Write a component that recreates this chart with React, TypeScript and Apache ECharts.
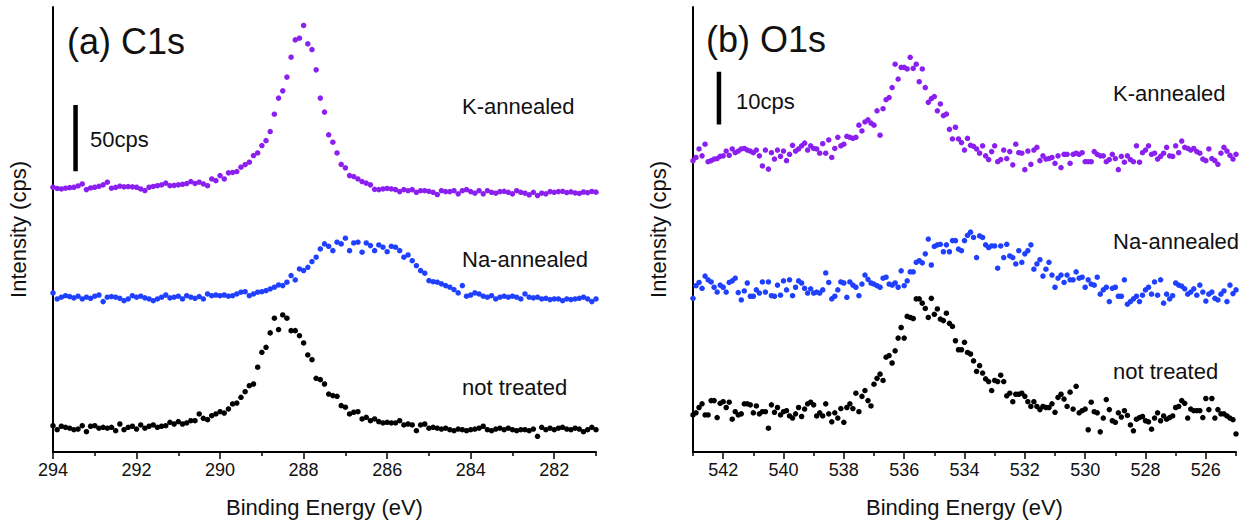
import React, { useEffect, useRef } from "react";
import * as echarts from "echarts";

// ---------- energy grids ----------
const c1sStartEV = 294;
const o1sStartEV = 543;
const stepEV = 0.1;

const c1sRange = [281, 294];
const o1sRange = [525, 543];
const c1sMajorTicks = [294, 292, 290, 288, 286, 284, 282];
const c1sMinorTicks = [293, 291, 289, 287, 285, 283, 281];
const o1sMajorTicks = [542, 540, 538, 536, 534, 532, 530, 528, 526];
const o1sMinorTicks = [543, 541, 539, 537, 535, 533, 531, 529, 527, 525];

const seriesNames = ["K-annealed", "Na-annealed", "not treated"];
const panelTitles = ["(a) C1s", "(b) O1s"];
const scaleBarLabels = ["50cps", "10cps"];
const scaleBarCps = [50, 10];

// ---------- C1s (cps, stacked with offsets) ----------
const c1sKAnnealed = [
  200.5, 199.6, 199.2, 199.8, 200.2, 200.5, 201.5, 203.0, 198.7, 200.0,
  200.5, 201.2, 202.3, 204.3, 199.8, 200.4, 201.3, 200.8, 201.0, 200.8,
  200.5, 199.2, 198.0, 200.5, 201.1, 201.7, 202.3, 203.6, 201.7, 201.9,
  202.3, 202.7, 203.3, 204.8, 203.4, 204.3, 203.0, 201.7,
  206.8, 205.5, 209.3, 206.8, 211.4, 211.7, 212.4, 215.7, 217.7, 219.5,
  224.5, 226.5, 232.1, 235.8, 242.7, 255.8, 268.0, 273.5, 283.9, 299.0,
  312.1, 313.4, 323.0, 309.1, 304.8, 289.4, 268.0, 257.4, 240.2, 234.6,
  226.5, 217.8, 215.2, 209.3, 208.6, 206.8, 204.8, 203.6, 202.3, 198.9,
  198.7, 199.2, 199.6, 199.2, 198.7, 197.2, 198.7, 197.9, 198.7, 196.7,
  197.9, 197.9, 197.4, 196.7, 195.0, 197.9, 197.2, 197.2, 197.9, 195.5,
  197.9, 198.7, 197.2, 196.0, 197.9, 195.5, 197.9, 196.7, 196.0, 197.2,
  197.4, 196.7, 195.5, 197.9, 196.7, 196.0, 194.7, 196.7, 194.2, 196.0,
  195.5, 197.2, 196.7, 197.2, 197.4, 196.5, 197.0, 196.2, 195.8, 196.9,
  196.4, 197.3, 196.8,
];

const c1sNaAnnealed = [
  120.5, 115.9, 117.2, 118.4, 117.7, 116.7, 118.0, 115.9, 117.2, 116.4,
  118.0, 118.9, 113.9, 117.2, 117.7, 117.2, 116.4, 114.6, 115.9, 118.4,
  117.2, 118.0, 116.7, 115.9, 114.6, 115.9, 117.2, 118.9, 116.7, 117.2,
  118.0, 115.9, 118.4, 117.2, 116.4, 117.7, 115.9, 119.7, 118.4, 118.9,
  118.4, 118.9, 118.0, 118.4, 119.7, 121.0, 121.4, 118.4, 119.7, 121.0,
  121.4, 122.2, 123.5, 124.8, 126.5, 126.0, 128.6, 133.6, 130.3, 138.6,
  137.4, 139.9, 144.2, 147.5, 153.8, 157.6, 155.8, 152.5, 158.9, 157.6,
  161.9, 152.5, 158.3, 158.9, 151.3, 158.3, 156.3, 152.5, 156.8, 155.1,
  151.7, 155.8, 155.1, 152.5, 147.5, 149.2, 144.9, 141.1, 137.4, 135.4,
  129.8, 129.0, 128.6, 127.3, 126.0, 124.8, 123.0, 120.5, 126.0, 118.0,
  118.9, 120.5, 119.7, 118.0, 117.2, 118.4, 115.9, 117.2, 118.0, 117.2,
  118.0, 117.2, 115.9, 119.7, 117.2, 116.7, 117.2, 115.9, 116.4, 115.4,
  115.9, 115.9, 114.6, 115.9, 115.4, 115.9, 116.4, 117.2, 115.9, 113.9,
  115.9,
];

const c1sNotTreated = [
  19.9, 16.9, 19.5, 18.7, 18.0, 16.9, 17.4, 19.9, 15.4, 19.5,
  19.9, 18.0, 18.7, 18.0, 18.7, 16.1, 21.2, 16.9, 18.7, 19.5,
  17.4, 20.5, 18.0, 19.5, 20.5, 18.7, 19.5, 19.9, 22.5, 21.2,
  23.0, 21.2, 22.0, 23.7, 23.7, 28.8, 25.5, 24.5, 27.5, 28.8,
  30.5, 29.5, 32.6, 36.4, 37.1, 41.4, 45.7, 50.2, 51.5, 64.2,
  75.5, 79.3, 90.2, 101.3, 92.7, 103.8, 101.3, 91.9, 91.9, 88.1,
  82.6, 73.5, 69.9, 55.8, 54.8, 51.5, 43.9, 42.7, 42.2, 35.1,
  33.9, 28.8, 30.1, 30.5, 25.0, 26.3, 23.7, 25.0, 23.0, 22.0,
  22.5, 22.0, 22.0, 23.7, 20.5, 21.2, 20.5, 16.1, 20.5, 21.2,
  18.0, 18.7, 18.0, 17.4, 18.0, 16.9, 16.1, 17.4, 16.9, 16.1,
  16.9, 17.4, 18.0, 19.5, 16.9, 16.1, 17.4, 18.0, 16.9, 18.0,
  16.9, 16.1, 16.9, 16.9, 16.1, 17.4, 11.9, 18.7, 16.9, 18.0,
  16.9, 18.0, 18.7, 17.4, 16.9, 18.0, 17.4, 15.4, 16.9, 18.7,
  16.9,
];

// ---------- O1s (cps, stacked with offsets) ----------
const o1sKAnnealed = [
  55.0, 55.6, 57.2, 55.9, 58.1, 54.8, 55.0, 55.3, 55.4, 55.8,
  55.9, 56.8, 56.0, 57.2, 56.5, 56.8, 57.2, 57.3, 57.0, 56.8,
  56.5, 57.0, 55.9, 54.0, 57.0, 53.4, 56.5, 55.3, 57.0, 55.8,
  56.8, 55.0, 56.2, 57.9, 56.8, 57.2, 57.8, 58.3, 57.0, 57.8,
  57.3, 57.2, 56.4, 58.2, 56.4, 58.9, 55.6, 57.3, 59.4, 57.8,
  58.1, 59.6, 59.4, 59.2, 59.4, 61.7, 60.6, 62.3, 62.7, 62.1,
  61.7, 64.4, 59.8, 64.8, 66.5, 66.9, 68.8, 73.2, 70.4, 72.6,
  72.6, 72.3, 74.5, 72.4, 73.2, 69.9, 72.3, 68.8, 66.0, 66.7,
  67.1, 64.4, 65.7, 63.5, 63.8, 60.9, 59.1,
  61.3, 59.1, 58.4, 57.0, 59.2, 57.9, 57.7, 57.2, 56.4, 57.8,
  55.9, 55.2, 56.7, 57.8, 54.8, 55.2, 57.0, 55.4, 56.7, 54.2,
  58.1, 56.5, 56.4, 53.3, 56.8, 54.3, 57.0, 57.5, 55.0, 55.9,
  55.3, 55.4, 55.6, 54.5, 55.9, 53.7, 56.2, 56.2, 54.5, 56.2,
  56.4, 56.2, 56.5, 54.8, 54.8, 54.8, 56.7, 56.2, 55.9, 55.9,
  54.8, 55.2, 56.2, 55.4, 53.3, 55.8, 54.7, 55.9, 55.2, 54.8,
  57.8, 54.7, 56.5, 57.0, 57.8, 56.2, 56.4, 55.3, 55.8, 56.4,
  57.5, 55.9, 55.8, 57.8, 56.5, 58.7, 57.5, 57.3, 57.0, 57.3,
  56.7, 56.4, 55.3, 55.0, 57.2, 55.4, 55.0, 54.3, 56.4, 57.5,
  56.8, 56.0, 55.3, 56.2,
];

const o1sNaAnnealed = [
  29.0, 31.4, 32.0, 30.9, 33.2, 32.5, 32.1, 31.1, 30.2, 31.5,
  31.1, 30.2, 32.0, 32.3, 32.8, 30.1, 28.7, 30.4, 31.9, 29.4,
  29.4, 30.6, 30.0, 32.1, 30.2, 32.1, 29.5, 29.4, 31.5, 29.6,
  32.3, 30.6, 32.5, 29.5, 31.1, 32.3, 31.9, 30.9, 30.0, 30.8,
  30.0, 30.2, 30.0, 30.6, 33.8, 32.0, 28.9, 29.4, 30.6, 32.1,
  31.9, 29.2, 32.1, 31.5, 31.1, 29.5, 31.7, 33.4, 32.6, 31.9,
  31.7, 31.4, 31.1, 32.8, 33.0, 31.7, 31.5, 31.9, 31.1, 34.2,
  31.4, 32.3, 34.0, 34.0, 35.8, 36.1, 35.7, 37.4, 40.2, 35.3,
  38.8, 39.1, 39.2, 37.8, 39.1, 37.8, 39.9, 39.9, 38.3, 38.0,
  39.9, 40.9,
  41.5, 40.5, 36.7, 40.8, 40.5, 39.1, 38.6, 38.9, 38.9, 34.7,
  38.9, 36.7, 39.2, 37.0, 36.7, 35.5, 38.0, 35.8, 37.4, 38.0,
  39.1, 34.5, 35.5, 36.3, 33.2, 34.5, 35.8, 33.4, 31.1, 32.8,
  33.4, 32.0, 33.4, 32.5, 32.5, 34.0, 32.8, 33.0, 31.1, 32.5,
  31.7, 31.5, 33.0, 29.8, 30.6, 31.1, 28.4, 30.9, 31.1, 29.4,
  29.4, 32.5, 27.9, 28.4, 28.9, 29.4, 28.4, 29.6, 30.6, 31.1,
  29.8, 32.1, 29.6, 32.5, 28.1, 29.8, 28.9, 29.5, 31.9, 31.5,
  31.3, 30.8, 29.8, 30.2, 30.8, 29.6, 31.5, 30.2, 28.5, 29.8,
  30.2, 29.0, 28.7, 29.8, 30.4, 28.4, 31.5, 29.9, 30.6,
];

const o1sNotTreated = [
  7.0, 7.4, 8.4, 9.1, 7.0, 7.0, 9.7, 9.7, 6.5, 9.2,
  9.5, 8.4, 9.4, 6.2, 7.6, 7.0, 7.2, 9.1, 9.1, 8.9,
  7.4, 8.7, 7.2, 7.6, 7.6, 4.5, 8.9, 7.5, 8.4, 7.0,
  7.6, 7.8, 6.8, 6.4, 7.2, 8.4, 6.7, 8.1, 9.1, 9.4,
  8.9, 6.8, 7.4, 6.8, 9.1, 7.2, 5.7, 7.4, 6.4, 8.2,
  5.6, 8.4, 9.1, 8.2, 11.1, 7.6, 10.5, 11.6, 9.7, 8.7,
  12.8, 13.9, 14.7, 13.5, 17.9, 18.2, 16.8, 19.1, 21.5, 23.5,
  21.5, 25.6, 25.4, 25.2, 28.9, 28.9, 28.1, 27.1, 25.4, 29.0,
  26.0, 27.0, 25.1, 24.8, 26.2, 24.3, 23.7, 21.0, 19.3, 19.3,
  20.7, 18.8,
  18.5, 17.2, 15.2, 16.3, 14.9, 13.8, 13.3, 11.6, 13.5, 13.3,
  14.5, 13.3, 10.6, 11.1, 9.5, 10.9, 10.9, 11.1, 10.5, 9.5,
  8.6, 9.5, 8.6, 8.0, 8.6, 8.4, 8.4, 9.1, 7.5, 10.3,
  10.9, 10.0, 8.6, 11.3, 8.1, 12.4, 7.4, 7.8, 8.1, 4.2,
  9.4, 7.6, 7.4, 3.8, 6.4, 9.9, 8.0, 5.9, 5.6, 7.4,
  6.6, 7.8, 6.9,
  5.1, 4.0, 6.2, 6.5, 6.7, 5.9, 5.7, 4.3, 6.4, 7.4,
  5.9, 6.8, 6.2, 6.5, 6.8, 8.4, 8.6, 9.7, 9.2, 6.4,
  8.1, 7.8, 7.8, 7.8, 6.5, 10.1, 8.0, 10.1, 6.4, 8.0,
  7.2, 7.2, 6.8, 6.4, 6.1, 3.4,
];

const colors = ["#8a1ff0", "#1f40ff", "#000000"];
const FONT = '"Liberation Sans", Arial, sans-serif';

function toPoints(start: number, values: number[]) {
  return values.map((v, i) => [Number((start - i * stepEV).toFixed(2)), v]);
}

function xAxes(gridIndex: number, range: number[], major: number[], minor: number[]) {
  return [
    {
      gridIndex,
      type: "value",
      min: range[0],
      max: range[1],
      inverse: true,
      position: "bottom",
      axisLine: { show: true, onZero: false, lineStyle: { color: "#000", width: 2 } },
      axisTick: { show: true, customValues: major, length: 7, lineStyle: { color: "#000", width: 1.5 } },
      axisLabel: {
        show: true,
        customValues: major,
        color: "#111",
        fontSize: 18,
        fontFamily: FONT,
        margin: 9,
      },
      splitLine: { show: false },
      name: "Binding Energy (eV)",
      nameLocation: "middle",
      nameGap: 44,
      nameTextStyle: { color: "#111", fontSize: 22, fontFamily: FONT },
    },
    {
      gridIndex,
      type: "value",
      min: range[0],
      max: range[1],
      inverse: true,
      position: "bottom",
      axisLine: { show: false, onZero: false },
      axisTick: { show: true, customValues: minor, length: 4, lineStyle: { color: "#000", width: 1.5 } },
      axisLabel: { show: false },
      splitLine: { show: false },
    },
  ];
}

function yAxis(gridIndex: number, max: number) {
  return {
    gridIndex,
    type: "value",
    min: 0,
    max,
    axisLine: { show: true, onZero: false, lineStyle: { color: "#000", width: 2 } },
    axisTick: { show: false },
    axisLabel: { show: false },
    splitLine: { show: false },
    name: "Intensity (cps)",
    nameLocation: "middle",
    nameGap: 24,
    nameRotate: 90,
    nameTextStyle: { color: "#111", fontSize: 22, fontFamily: FONT },
  };
}

function scatter(name: string, xAxisIndex: number, yAxisIndex: number, data: number[][], color: string) {
  return {
    name,
    type: "scatter",
    xAxisIndex,
    yAxisIndex,
    data,
    symbol: "circle",
    symbolSize: 5.5,
    itemStyle: { color, opacity: 1 },
    silent: true,
  };
}

function scaleBar(xAxisIndex: number, yAxisIndex: number, x: number, y0: number, h: number) {
  return {
    type: "line",
    xAxisIndex,
    yAxisIndex,
    data: [
      [x, y0],
      [x, y0 + h],
    ],
    symbol: "none",
    lineStyle: { color: "#000", width: 4.5 },
    silent: true,
  };
}

function label(text: string, x: number, y: number, size: number) {
  return {
    type: "text",
    x,
    y,
    silent: true,
    style: {
      text,
      fill: "#111",
      font: `${size}px ${FONT}`,
      verticalAlign: "middle",
      align: "left",
    },
  };
}

export default function App() {
  const ref = useRef<HTMLDivElement | null>(null);

  useEffect(() => {
    if (!ref.current) return;
    const chart = echarts.init(ref.current, undefined, { renderer: "svg" });

    const option: any = {
      animation: false,
      backgroundColor: "#ffffff",
      grid: [
        { left: 53, top: 7, width: 543, height: 450 },
        { left: 693, top: 7, width: 543, height: 450 },
      ],
      xAxis: [
        ...xAxes(0, c1sRange, c1sMajorTicks, c1sMinorTicks),
        ...xAxes(1, o1sRange, o1sMajorTicks, o1sMinorTicks),
      ],
      yAxis: [yAxis(0, 337), yAxis(1, 84)],
      series: [
        scatter(seriesNames[0], 0, 0, toPoints(c1sStartEV, c1sKAnnealed), colors[0]),
        scatter(seriesNames[1], 0, 0, toPoints(c1sStartEV, c1sNaAnnealed), colors[1]),
        scatter(seriesNames[2], 0, 0, toPoints(c1sStartEV, c1sNotTreated), colors[2]),
        scatter(seriesNames[0], 2, 1, toPoints(o1sStartEV, o1sKAnnealed), colors[0]),
        scatter(seriesNames[1], 2, 1, toPoints(o1sStartEV, o1sNaAnnealed), colors[1]),
        scatter(seriesNames[2], 2, 1, toPoints(o1sStartEV, o1sNotTreated), colors[2]),
        scaleBar(0, 0, 293.46, 212.7, scaleBarCps[0]),
        scaleBar(2, 1, 542.14, 61.8, scaleBarCps[1]),
      ],
      graphic: [
        label(panelTitles[0], 67, 41, 36),
        label(panelTitles[1], 706, 39, 36),
        label(scaleBarLabels[0], 90, 139, 22),
        label(scaleBarLabels[1], 736, 101, 22),
        label(seriesNames[0], 462, 106, 22),
        label(seriesNames[1], 462, 259, 22),
        label(seriesNames[2], 462, 387, 22),
        label(seriesNames[0], 1113, 93, 22),
        label(seriesNames[1], 1113, 241, 22),
        label(seriesNames[2], 1113, 371, 22),
      ],
    };

    chart.setOption(option);
    return () => chart.dispose();
  }, []);

  return (
    <div
      ref={ref}
      style={{ position: "fixed", left: 0, top: 0, width: 1249, height: 523, background: "#fff" }}
    />
  );
}
